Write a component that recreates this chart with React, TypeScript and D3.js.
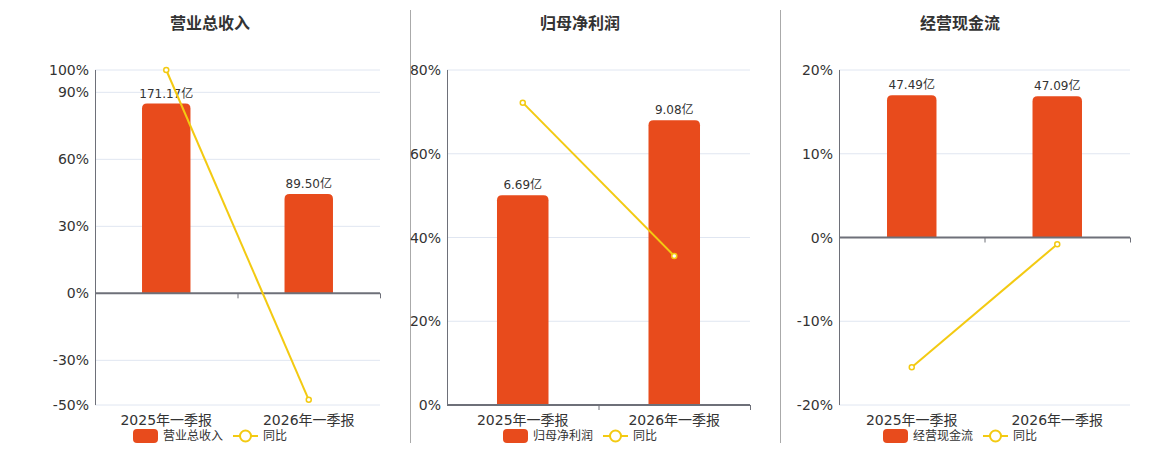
import * as d3 from 'd3';

const titles = ['营业总收入', '归母净利润', '经营现金流'];
const categories = ['2025年一季报', '2026年一季报'];
const barValues = [
  [171.17, 89.5],
  [6.69, 9.08],
  [47.49, 47.09],
];
const yoyValues = [
  [100, -47.7],
  [72.2, 35.6],
  [-15.5, -0.8],
];
const yDomains: [number, number][] = [
  [-50, 100],
  [0, 80],
  [-20, 20],
];
const yTicks = [
  [-50, -30, 0, 30, 60, 90, 100],
  [0, 20, 40, 60, 80],
  [-20, -10, 0, 10, 20],
];

const W = 1160;
const H = 450;
const TOP = 70;
const BOTTOM = 405;
const BAR_COLOR = '#E84B1C';
const LINE_COLOR = '#F3CA12';
const FONT = '"DejaVu Sans", "Noto Sans CJK SC", sans-serif';

// panel frames: plot left/right and container centre
const panels = [
  { left: 95, right: 380, center: 210 },
  { left: 447, right: 750, center: 580 },
  { left: 839, right: 1130, center: 960 },
];
const dividers = [410.5, 780.5];

function topRoundedRect(x: number, y: number, w: number, h: number, r: number) {
  const rr = Math.min(r, h, w / 2);
  return `M${x},${y + h}V${y + rr}Q${x},${y} ${x + rr},${y}H${x + w - rr}Q${x + w},${y} ${x + w},${y + rr}V${y + h}Z`;
}

function Panel({ i }: { i: number }) {
  const { left, right, center } = panels[i];
  const x = d3.scaleBand<string>().domain(categories).range([left, right]);
  const y = d3.scaleLinear().domain(yDomains[i]).range([BOTTOM, TOP]);
  const barMax = (d3.max(barValues[i]) ?? 1) / 0.85;
  const [lo, hi] = yDomains[i];
  const yb = d3.scaleLinear().domain([(lo / hi) * barMax, barMax]).range([BOTTOM, TOP]);
  const zeroY = y(0);
  const barW = x.bandwidth() * 0.34;
  const cx = (c: string) => (x(c) ?? 0) + x.bandwidth() / 2;
  const line = d3
    .line<number>()
    .x((_, k) => cx(categories[k]))
    .y((d) => y(d));
  const legendStart = center - 77;

  return (
    <g>
      <text
        x={center}
        y={29}
        textAnchor="middle"
        fontSize={16}
        fontWeight="bold"
        fill="#333"
        fontFamily={FONT}
      >
        {titles[i]}
      </text>
      {yTicks[i].map((t) => (
        <g key={t}>
          {t !== 0 && (
            <line x1={left} x2={right} y1={y(t)} y2={y(t)} stroke="#E0E6F1" strokeWidth={1} />
          )}
          <text
            x={left - 6}
            y={y(t)}
            textAnchor="end"
            dominantBaseline="central"
            fontSize={14}
            fill="#333"
            fontFamily={FONT}
          >
            {`${t}%`}
          </text>
        </g>
      ))}
      <line x1={left + 0.5} x2={left + 0.5} y1={TOP} y2={BOTTOM} stroke="#6E7079" strokeWidth={1} />
      {barValues[i].map((v, k) => {
        const c = categories[k];
        const top = yb(v);
        return (
          <g key={c}>
            <path d={topRoundedRect(cx(c) - barW / 2, top, barW, zeroY - top, 5)} fill={BAR_COLOR} />
            <text
              x={cx(c)}
              y={top - 6}
              textAnchor="middle"
              fontSize={12}
              fill="#333"
              fontFamily={FONT}
            >
              {`${v.toFixed(2)}亿`}
            </text>
          </g>
        );
      })}
      <line x1={left} x2={right} y1={zeroY} y2={zeroY} stroke="#6E7079" strokeWidth={2} />
      {categories.map((c) => (
        <line
          key={c}
          x1={(x(c) ?? 0) + x.bandwidth() + 0.5}
          x2={(x(c) ?? 0) + x.bandwidth() + 0.5}
          y1={zeroY}
          y2={zeroY + 5}
          stroke="#6E7079"
          strokeWidth={1}
        />
      ))}
      {categories.map((c) => (
        <text
          key={c}
          x={cx(c)}
          y={425}
          textAnchor="middle"
          fontSize={14}
          fill="#333"
          fontFamily={FONT}
        >
          {c}
        </text>
      ))}
      <path d={line(yoyValues[i]) ?? ''} fill="none" stroke={LINE_COLOR} strokeWidth={2} />
      {yoyValues[i].map((v, k) => (
        <circle
          key={k}
          cx={cx(categories[k])}
          cy={y(v)}
          r={2.5}
          fill="#fff"
          stroke={LINE_COLOR}
          strokeWidth={1.5}
        />
      ))}
      <g fontFamily={FONT} fontSize={12} fill="#333">
        <rect x={legendStart} y={429} width={25} height={14} rx={4} fill={BAR_COLOR} />
        <text x={legendStart + 30} y={436} dominantBaseline="central">
          {titles[i]}
        </text>
        <line
          x1={legendStart + 100}
          x2={legendStart + 125}
          y1={436}
          y2={436}
          stroke={LINE_COLOR}
          strokeWidth={2}
        />
        <circle cx={legendStart + 112.5} cy={436} r={5.5} fill="#fff" stroke={LINE_COLOR} strokeWidth={2} />
        <text x={legendStart + 130} y={436} dominantBaseline="central">
          同比
        </text>
      </g>
    </g>
  );
}

export default function App() {
  return (
    <svg
      width={W}
      height={H}
      style={{ position: 'absolute', left: 0, top: 0, background: '#fff' }}
    >
      {dividers.map((dx) => (
        <line key={dx} x1={dx} x2={dx} y1={10} y2={443} stroke="#AAAAAA" strokeWidth={1} />
      ))}
      {titles.map((t, i) => (
        <Panel key={t} i={i} />
      ))}
    </svg>
  );
}
